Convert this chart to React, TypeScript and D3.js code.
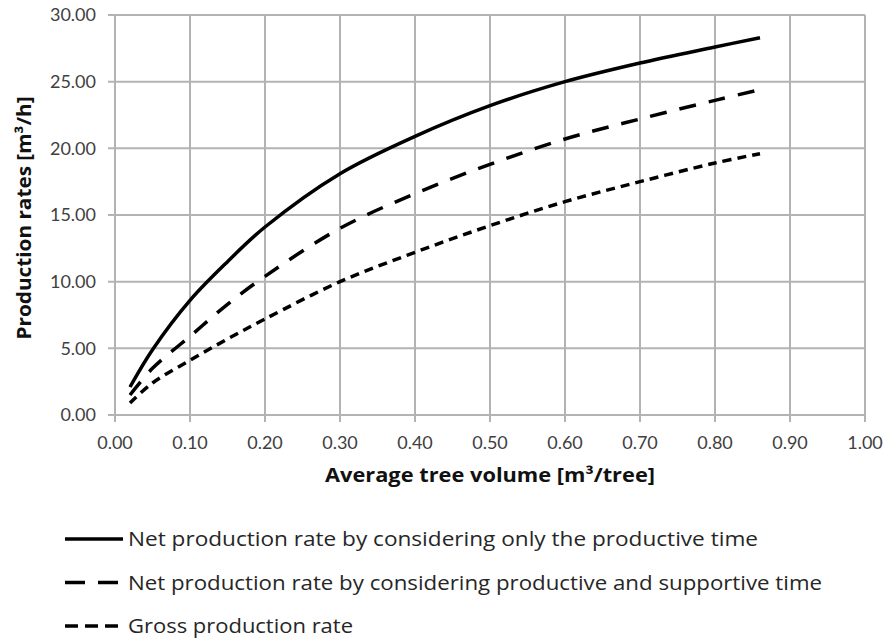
import React from "react";
import * as d3 from "d3";

// average tree volume [m3/tree]
const volume = [0.02, 0.05, 0.1, 0.15, 0.2, 0.3, 0.4, 0.5, 0.6, 0.7, 0.8, 0.86];
// production rates [m3/h]
const netProductive = [2.1, 4.9, 8.6, 11.5, 14.1, 18.1, 20.9, 23.2, 25.0, 26.4, 27.6, 28.3];
const netSupportive = [1.5, 3.5, 5.9, 8.3, 10.4, 14.0, 16.6, 18.8, 20.7, 22.2, 23.6, 24.4];
const gross = [0.9, 2.4, 4.1, 5.7, 7.2, 10.0, 12.2, 14.2, 16.0, 17.5, 18.9, 19.6];

const xTicks = [0, 0.1, 0.2, 0.3, 0.4, 0.5, 0.6, 0.7, 0.8, 0.9, 1.0];
const yTicks = [0, 5, 10, 15, 20, 25, 30];

const seriesLabels = [
  "Net production rate by considering only the productive time",
  "Net production rate by considering productive and supportive time",
  "Gross production rate",
];
const legendWidths = [630, 694, 225];

const W = 887,
  H = 640;
const margin = { top: 15, right: 22, bottom: 225, left: 115 };
const tickFont = "Lato, 'Open Sans', sans-serif";
const textFont = "'Open Sans', Lato, sans-serif";
const grid = "#b3b3b3";

export default function App() {
  const x = d3.scaleLinear().domain([0, 1]).range([margin.left, W - margin.right]);
  const y = d3.scaleLinear().domain([0, 30]).range([H - margin.bottom, margin.top]);

  const series = [
    { label: seriesLabels[0], values: netProductive, dash: "none", legendDash: "none" },
    { label: seriesLabels[1], values: netSupportive, dash: "17,13", legendDash: "20,13" },
    { label: seriesLabels[2], values: gross, dash: "9,6", legendDash: "13,7" },
  ];

  const line = d3
    .line<number>()
    .x((_, i) => x(volume[i]))
    .y((d) => y(d))
    .curve(d3.curveCatmullRom.alpha(0.5));

  const y0 = y(0),
    y1 = y(30);
  const x0 = x(0),
    x1 = x(1);

  return (
    <svg width={W} height={H} style={{ position: "absolute", left: 0, top: 0, background: "#fff" }}>
      <g>
        {yTicks.map((t) => (
          <line key={"h" + t} x1={x0 - 7} x2={x1} y1={y(t)} y2={y(t)} stroke={grid} strokeWidth={2} />
        ))}
        {xTicks.map((t) => (
          <line key={"v" + t} x1={x(t)} x2={x(t)} y1={y1} y2={y0 + 7} stroke={grid} strokeWidth={2} />
        ))}
      </g>
      <g fontFamily={tickFont} fontSize={18} fill="#404040">
        {yTicks.map((t) => (
          <text key={"yl" + t} x={x0 - 19} y={y(t)} dy="0.36em" textAnchor="end">
            {t.toFixed(2)}
          </text>
        ))}
        {xTicks.map((t) => (
          <text key={"xl" + t} x={x(t)} y={449} textAnchor="middle">
            {t.toFixed(2)}
          </text>
        ))}
      </g>
      <text
        x={(x0 + x1) / 2}
        y={482}
        textAnchor="middle"
        fontFamily={textFont}
        fontWeight="bold"
        fontSize={19}
        fill="#111"
        textLength={330}
        lengthAdjust="spacingAndGlyphs"
      >
        Average tree volume [m³/tree]
      </text>
      <text
        transform={`translate(31,${(y0 + y1) / 2 + 3}) rotate(-90)`}
        textAnchor="middle"
        fontFamily={textFont}
        fontWeight="bold"
        fontSize={19}
        fill="#111"
        textLength={243}
        lengthAdjust="spacingAndGlyphs"
      >
        Production rates [m³/h]
      </text>
      <g>
        {series.map((s) => (
          <path
            key={s.label}
            d={line(s.values) ?? ""}
            fill="none"
            stroke="#000"
            strokeWidth={3.5}
            strokeDasharray={s.dash}
          />
        ))}
      </g>
      <g fontFamily={textFont} fontSize={19.5} fill="#262626">
        {series.map((s, i) => {
          const ly = 539 + i * 43.5;
          return (
            <g key={"lg" + i}>
              <line x1={65} x2={123} y1={ly} y2={ly} stroke="#000" strokeWidth={3.5} strokeDasharray={s.legendDash} />
              <text x={128} y={ly + 7} textLength={legendWidths[i]} lengthAdjust="spacingAndGlyphs">
                {s.label}
              </text>
            </g>
          );
        })}
      </g>
    </svg>
  );
}
